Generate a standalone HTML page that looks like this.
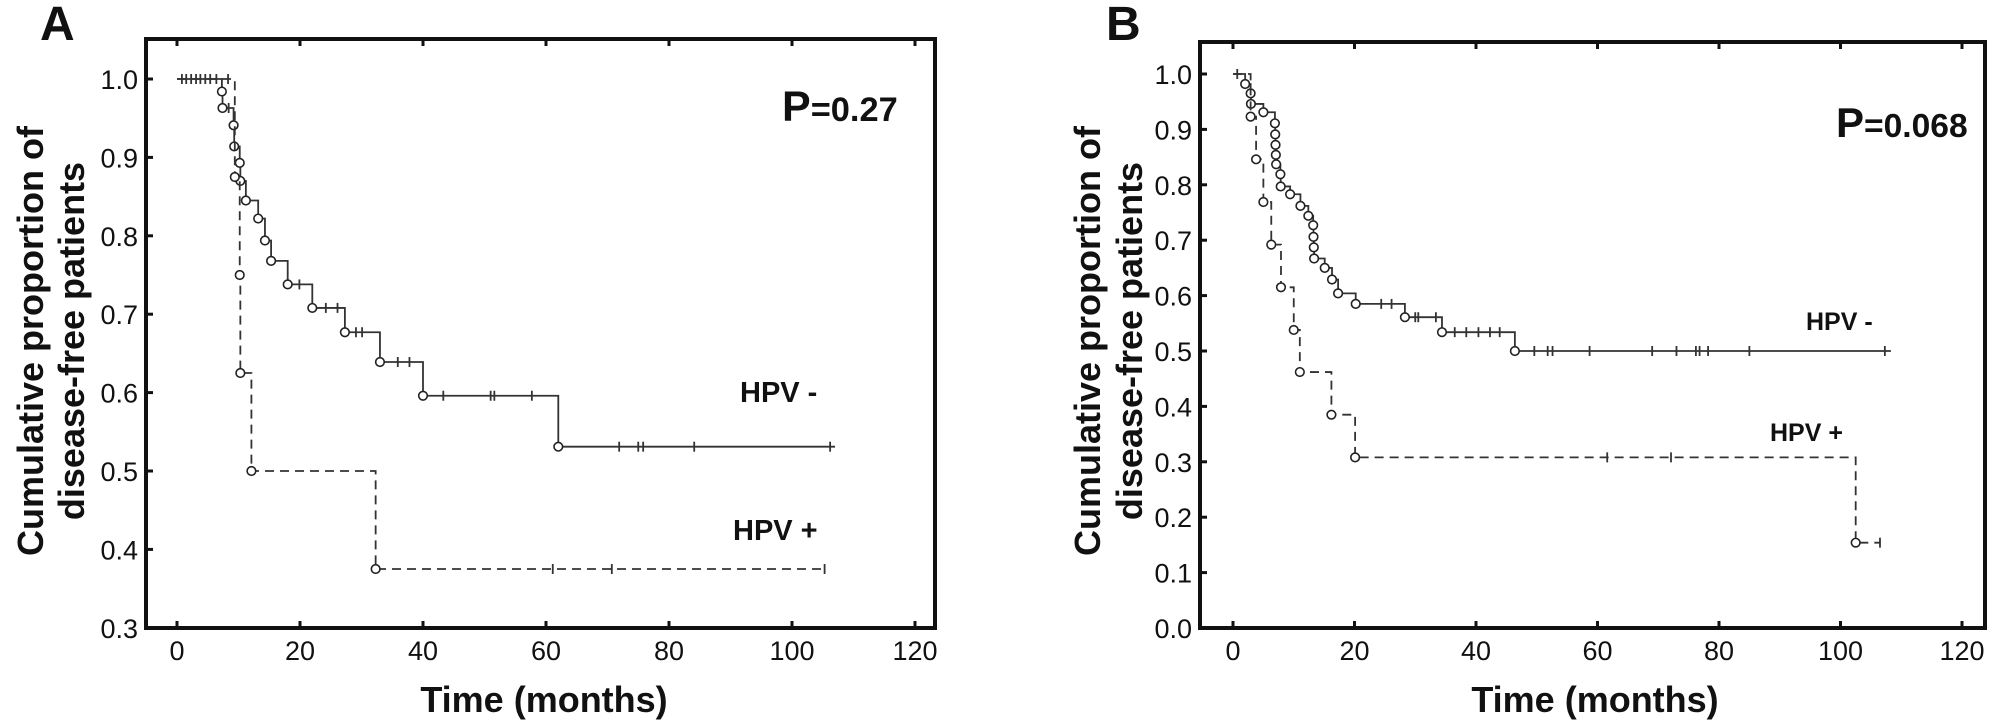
<!DOCTYPE html>
<html><head><meta charset="utf-8"><style>
html,body{margin:0;padding:0;background:#fff}
svg{display:block}
text{font-family:"Liberation Sans",Arial,sans-serif;fill:#111}
</style></head><body>
<svg id="fig" width="2008" height="722" viewBox="0 0 2008 722" xmlns="http://www.w3.org/2000/svg"></svg>
<script>
// ---------- Panel A data ----------
const aNegEventTimes = [7.3, 7.4, 9.2, 9.3, 10.2, 10.3, 11.2, 13.2, 14.3, 15.3, 18.0, 22.0, 27.3, 33.0, 40.0, 62.0];
const aNegEventValues = [0.984, 0.963, 0.941, 0.914, 0.893, 0.870, 0.845, 0.822, 0.794, 0.768, 0.738, 0.708, 0.677, 0.639, 0.596, 0.531];
const aNegCensorTimes = [0.8, 1.5, 2.3, 3.1, 3.8, 4.6, 5.4, 6.4, 8.4, 19.9, 24.2, 26.1, 29.1, 30.1, 35.9, 37.8, 43.3, 51.0, 51.6, 57.7, 71.9, 75.0, 75.8, 84.1, 106.2];
const aNegEnd = 107;
const aPosEventTimes = [9.4, 10.2, 10.3, 12.1, 32.3];
const aPosEventValues = [0.875, 0.75, 0.625, 0.5, 0.375];
const aPosCensorTimes = [8.3, 61.1, 70.7, 105.3];
const aPosEnd = 105.3;
const aYTicks = [0.3, 0.4, 0.5, 0.6, 0.7, 0.8, 0.9, 1.0];
// ---------- Panel B data ----------
const bNegEventTimes = [2.0, 2.9, 2.95, 5.0, 6.9, 6.95, 7.0, 7.05, 7.1, 7.8, 7.85, 9.4, 11.1, 12.4, 13.2, 13.25, 13.3, 13.35, 15.1, 16.3, 17.3, 20.2, 28.3, 34.4, 46.4];
const bNegEventValues = [0.982, 0.965, 0.946, 0.931, 0.911, 0.891, 0.872, 0.854, 0.837, 0.819, 0.797, 0.783, 0.762, 0.744, 0.727, 0.706, 0.687, 0.667, 0.650, 0.629, 0.604, 0.585, 0.561, 0.534, 0.500];
const bNegCensorTimes = [0.7, 24.4, 26.1, 30.0, 30.5, 33.4, 36.5, 38.4, 40.4, 42.3, 43.9, 49.6, 51.8, 52.6, 58.7, 69.0, 73.0, 76.2, 76.8, 78.2, 85.0, 107.3];
const bNegEnd = 108.3;
const bPosEventTimes = [2.9, 3.8, 5.0, 6.3, 7.9, 10.0, 11.0, 16.2, 20.1, 102.5];
const bPosEventValues = [0.923, 0.846, 0.769, 0.692, 0.615, 0.538, 0.462, 0.385, 0.308, 0.154];
const bPosCensorTimes = [61.6, 72.1, 106.5];
const bPosEnd = 106.5;
const bYTicks = [0.0, 0.1, 0.2, 0.3, 0.4, 0.5, 0.6, 0.7, 0.8, 0.9, 1.0];
const xTicks = [0, 20, 40, 60, 80, 100, 120];

const NS = "http://www.w3.org/2000/svg";
const fig = document.getElementById('fig');
function mk(tag, attrs, parent) {
  const e = document.createElementNS(NS, tag);
  for (const k in attrs) e.setAttribute(k, attrs[k]);
  (parent || fig).appendChild(e);
  return e;
}
function valueAt(times, values, t) {
  let v = 1;
  for (let i = 0; i < times.length; i++) if (times[i] <= t) v = values[i];
  return v;
}

function drawPanel(p) {
  const g = mk('g', {});
  
  
  const X = t => p.x0 + t * p.xs;
  const Y = v => p.y1 + (v - p.ymax) * p.ys;

  const fr = mk('rect', {x: p.left, y: p.top, width: p.right - p.left, height: p.bottom - p.top, fill: 'none', stroke: '#111', 'stroke-width': 4}, g);
  
  

  xTicks.forEach(t => {
    const x = X(t);
    mk('line', {x1: x, x2: x, y1: p.bottom, y2: p.bottom - 7, stroke: '#111', 'stroke-width': 3}, g);
    mk('line', {x1: x, x2: x, y1: p.top, y2: p.top + 7, stroke: '#111', 'stroke-width': 3}, g);
    const tl = mk('text', {x: x, y: p.bottom + 32, 'text-anchor': 'middle', 'font-size': 27}, g);
    tl.textContent = String(t);
    
    
  });
  p.yTicks.forEach(v => {
    const y = Y(v);
    mk('line', {x1: p.left, x2: p.left + 7, y1: y, y2: y, stroke: '#111', 'stroke-width': 3}, g);
    const tl = mk('text', {x: p.left - 8, y: y + 10, 'text-anchor': 'end', 'font-size': 27}, g);
    tl.textContent = v.toFixed(1);
    
    
  });

  function curve(times, values, censors, end, dashed, nm) {
    const cg = mk('g', {}, g);
    
    
    let d = 'M' + X(0) + ',' + Y(1);
    for (let i = 0; i < times.length; i++) {
      d += ' H' + X(times[i]) + ' V' + Y(values[i]);
    }
    d += ' H' + X(end);
    const path = mk('path', {d: d, fill: 'none', stroke: '#333', 'stroke-width': 1.8, 'stroke-dasharray': dashed ? '9,6' : 'none'}, cg);
    
    
    censors.forEach(t => {
      const v = valueAt(times, values, t);
      const c = mk('line', {x1: X(t), x2: X(t), y1: Y(v) - 5, y2: Y(v) + 5, stroke: '#333', 'stroke-width': 1.8}, cg);
      
      
    });
    for (let i = 0; i < times.length; i++) {
      const c = mk('circle', {cx: X(times[i]), cy: Y(values[i]), r: 4.3, fill: '#fff', stroke: '#222', 'stroke-width': 1.6}, cg);
      
      
    }
  }
  curve(p.negT, p.negV, p.negC, p.negEnd, false, 'hpv-negative-curve');
  curve(p.posT, p.posV, p.posC, p.posEnd, true, 'hpv-positive-curve');

  const lt = mk('text', {x: p.letterX, y: 40, 'font-size': 48, 'font-weight': 'bold'}, g);
  lt.textContent = p.letter;
  
  

  const pv = mk('text', {x: p.pX, y: p.pY, 'font-weight': 'bold', 'font-size': p.pSize}, g);
  
  
  const t1 = mk('tspan', {}, pv); t1.textContent = 'P';
  const t2 = mk('tspan', {'font-size': p.pSize * 0.8}, pv); t2.textContent = p.pText;

  const nl = mk('text', {x: p.negLX, y: p.negLY, 'font-weight': 'bold', 'font-size': p.labSize}, g);
  nl.textContent = 'HPV -';
  
  
  const pl = mk('text', {x: p.posLX, y: p.posLY, 'font-weight': 'bold', 'font-size': p.labSize}, g);
  pl.textContent = 'HPV +';
  
  

  const xt = mk('text', {x: p.xTitleX, y: 712, 'text-anchor': 'middle', 'font-weight': 'bold', 'font-size': 36}, g);
  xt.textContent = 'Time (months)';
  
  

  const yt = mk('text', {transform: 'translate(' + p.yT1 + ',341) rotate(-90)', 'text-anchor': 'middle', 'font-weight': 'bold', 'font-size': 36}, g);
  
  
  yt.textContent = 'Cumulative proportion of';
  const yt2 = mk('text', {transform: 'translate(' + p.yT2 + ',341) rotate(-90)', 'text-anchor': 'middle', 'font-weight': 'bold', 'font-size': 36}, g);
  
  
  yt2.textContent = 'disease-free patients';
}

drawPanel({name: 'panel-a', letter: 'A', letterX: 40, left: 146, right: 935, top: 39, bottom: 628,
  x0: 177, xs: 6.15, ymax: 1.0, y1: 79, ys: -784,
  yTicks: aYTicks, negT: aNegEventTimes, negV: aNegEventValues, negC: aNegCensorTimes, negEnd: aNegEnd,
  posT: aPosEventTimes, posV: aPosEventValues, posC: aPosCensorTimes, posEnd: aPosEnd,
  pX: 782, pY: 121, pSize: 43, pText: '=0.27', negLX: 740, negLY: 402, posLX: 733, posLY: 540, labSize: 29,
  xTitleX: 544, yT1: 43, yT2: 84});
drawPanel({name: 'panel-b', letter: 'B', letterX: 1106, left: 1200, right: 1985, top: 42, bottom: 628,
  x0: 1233, xs: 6.075, ymax: 1.0, y1: 74, ys: -554,
  yTicks: bYTicks, negT: bNegEventTimes, negV: bNegEventValues, negC: bNegCensorTimes, negEnd: bNegEnd,
  posT: bPosEventTimes, posV: bPosEventValues, posC: bPosCensorTimes, posEnd: bPosEnd,
  pX: 1836, pY: 137, pSize: 42, pText: '=0.068', negLX: 1806, negLY: 330, posLX: 1770, posLY: 441, labSize: 25,
  xTitleX: 1595, yT1: 1100, yT2: 1142});
</script>
</body></html>
